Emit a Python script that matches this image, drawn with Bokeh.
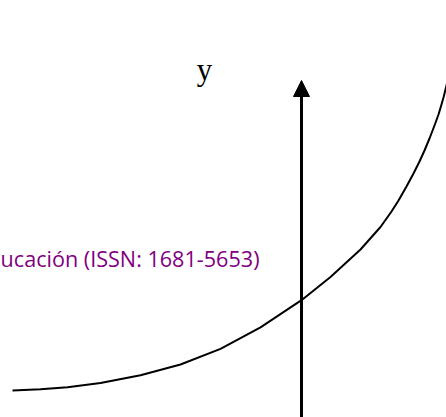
from bokeh.plotting import figure
from bokeh.models import Range1d, Arrow, NormalHead, Label
from bokeh.embed import file_html
from bokeh.resources import INLINE

# Curve points (y axis at x = 0)
curve_x = [-2.89, -2.61, -2.34, -2.01, -1.61, -1.21, -0.81, -0.41, 0.00, 0.29,
           0.59, 0.79, 0.90, 0.97, 1.05, 1.12, 1.18, 1.23, 1.28, 1.33,
           1.37, 1.40, 1.42, 1.45, 1.48]
curve_y = [0.270, 0.282, 0.303, 0.346, 0.422, 0.530, 0.686, 0.902, 1.173, 1.405,
           1.680, 1.905, 2.060, 2.170, 2.310, 2.440, 2.560, 2.670, 2.790, 2.920,
           3.030, 3.130, 3.200, 3.320, 3.450]

axis_x = 0.0
axis_start = -0.2
axis_end = 3.37
axis_label = "y"
header_text = "ucación (ISSN: 1681-5653)"

p = figure(width=446, height=417, output_backend="svg", toolbar_location=None,
           x_range=Range1d(-3.01, 1.45), y_range=Range1d(0, 4.17),
           min_border=0, outline_line_color=None, background_fill_color="white",
           border_fill_color="white")
p.xaxis.visible = False
p.yaxis.visible = False
p.grid.visible = False

p.line(curve_x, curve_y, line_color="black", line_width=2, line_join="round")

p.add_layout(Arrow(x_start=axis_x, y_start=axis_start, x_end=axis_x, y_end=axis_end,
                   line_color="black", line_width=3,
                   end=NormalHead(size=16, fill_color="black", line_color="black", line_width=1)))

p.add_layout(Label(x=-0.97, y=3.48, text=axis_label, text_font="Liberation Serif",
                   text_font_size="31px", text_align="center", text_baseline="alphabetic",
                   text_color="black"))

p.add_layout(Label(x=-0.42, y=1.59, text=header_text, text_font="Open Sans",
                   text_font_size="21.6px", text_align="right", text_baseline="alphabetic",
                   text_color="#800080"))

open("out.html", "w").write(file_html(p, INLINE))
